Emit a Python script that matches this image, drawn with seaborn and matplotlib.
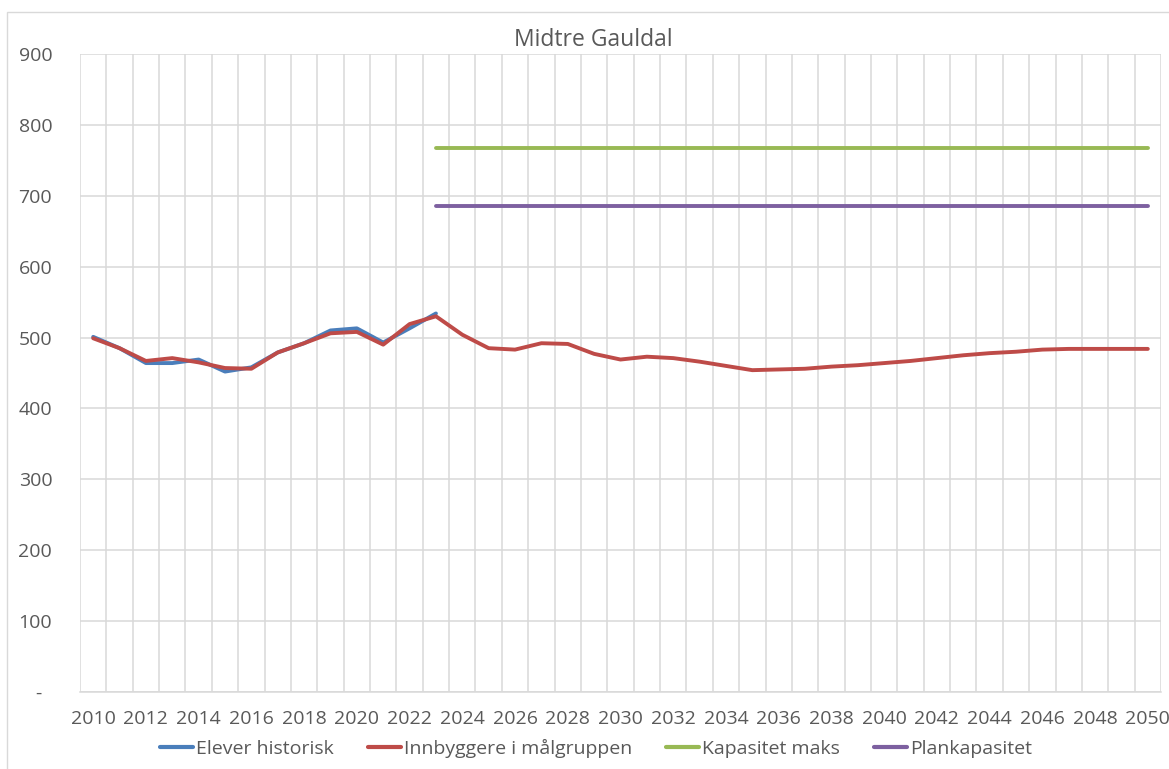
import matplotlib
matplotlib.use("Agg")
import matplotlib.pyplot as plt
from matplotlib.ticker import FixedLocator, FuncFormatter
from matplotlib.patches import Rectangle
import seaborn as sns
import pandas as pd

years_hist = list(range(2010, 2024))
elever_historisk = [501, 485, 464, 464, 469, 452, 458, 479, 492, 510, 513, 493, 513, 534]

years_all = list(range(2010, 2051))
innbyggere = [499, 485, 467, 471, 465, 457, 456, 479, 492, 506, 508, 490, 519, 530,
              504, 485, 483, 492, 491, 477, 469, 473, 471, 466, 460, 454, 455, 456,
              459, 461, 464, 467, 471, 475, 478, 480, 483, 484, 484, 484, 484]

years_cap = list(range(2023, 2051))
kapasitet_maks = [768] * len(years_cap)
plankapasitet = [685] * len(years_cap)

series_names = ["Elever historisk", "Innbyggere i målgruppen", "Kapasitet maks", "Plankapasitet"]
colors = ["#4A7EBB", "#BE4B48", "#98B954", "#7D60A0"]

df = pd.concat([
    pd.DataFrame({"år": years_hist, "verdi": elever_historisk, "serie": series_names[0]}),
    pd.DataFrame({"år": years_all, "verdi": innbyggere, "serie": series_names[1]}),
    pd.DataFrame({"år": years_cap, "verdi": kapasitet_maks, "serie": series_names[2]}),
    pd.DataFrame({"år": years_cap, "verdi": plankapasitet, "serie": series_names[3]}),
], ignore_index=True)

sns.set_theme(style="white")
plt.rcParams["font.family"] = ["Open Sans", "DejaVu Sans"]
text_color = "#595959"
grid_color = "#D9D9D9"

fig = plt.figure(figsize=(11.69, 7.69), dpi=100)
ax = fig.add_axes([80 / 1169, 77 / 769, 1081 / 1169, 638 / 769])

sns.lineplot(data=df, x="år", y="verdi", hue="serie", hue_order=series_names,
             palette=colors, linewidth=2.8, estimator=None, sort=False, ax=ax,
             legend=True)

ax.set_xlim(2009.5, 2050.5)
ax.set_ylim(0, 900)
ax.xaxis.set_major_locator(FixedLocator(list(range(2010, 2051, 2))))
ax.xaxis.set_minor_locator(FixedLocator([y + 0.5 for y in range(2009, 2051)]))
ax.yaxis.set_major_locator(FixedLocator(list(range(0, 901, 100))))
ax.yaxis.set_major_formatter(FuncFormatter(lambda v, p: "-  " if v == 0 else f"{int(v)}"))

ax.grid(False)
ax.grid(True, axis="y", which="major", color=grid_color, linewidth=1.1)
ax.grid(True, axis="x", which="minor", color=grid_color, linewidth=1.1)
ax.set_axisbelow(True)

for side in ["top", "right", "left"]:
    ax.spines[side].set_visible(False)
ax.spines["bottom"].set_color(grid_color)
ax.spines["bottom"].set_linewidth(1.1)

ax.tick_params(axis="both", which="both", length=0, colors=text_color, labelsize=14)
ax.tick_params(axis="x", pad=13)
ax.tick_params(axis="y", pad=20)
ax.set_xlabel("")
ax.set_ylabel("")

fig.text(593 / 1169, 1 - 40 / 769, "Midtre Gauldal", ha="center", va="center",
         fontsize=16.5, color=text_color)

handles, labels = ax.get_legend_handles_labels()
ax.get_legend().remove()
leg = fig.legend(handles, labels, loc="center", bbox_to_anchor=(596 / 1169, 21 / 769),
                 ncol=4, frameon=False, fontsize=14, handlelength=1.7,
                 handletextpad=0.15, columnspacing=1.75, labelcolor=text_color)
for h in leg.legend_handles:
    h.set_linewidth(3)

fig.patches.append(Rectangle((7 / 1169, -0.05), 1.1, 1.05 - 12 / 769,
                             transform=fig.transFigure, fill=False,
                             edgecolor=grid_color, linewidth=1.0))

fig.savefig("out.png", dpi=100)
